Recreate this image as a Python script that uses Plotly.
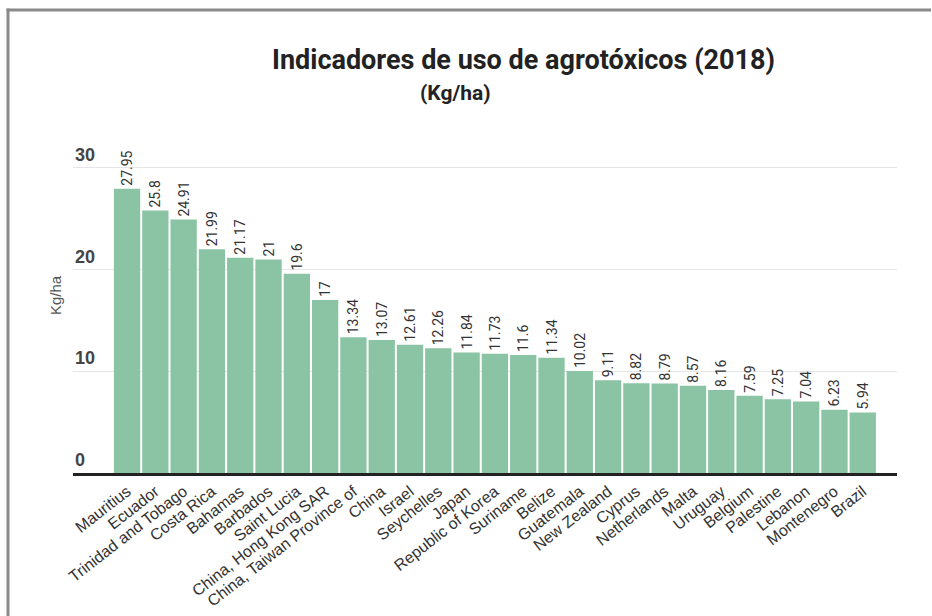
import plotly.graph_objects as go

countries = ["Mauritius", "Ecuador", "Trinidad and Tobago", "Costa Rica", "Bahamas",
             "Barbados", "Saint Lucia", "China, Hong Kong SAR", "China, Taiwan Province of",
             "China", "Israel", "Seychelles", "Japan", "Republic of Korea", "Suriname",
             "Belize", "Guatemala", "New Zealand", "Cyprus", "Netherlands", "Malta",
             "Uruguay", "Belgium", "Palestine", "Lebanon", "Montenegro", "Brazil"]
values = [27.95, 25.8, 24.91, 21.99, 21.17, 21, 19.6, 17, 13.34, 13.07, 12.61, 12.26,
          11.84, 11.73, 11.6, 11.34, 10.02, 9.11, 8.82, 8.79, 8.57, 8.16, 7.59, 7.25,
          7.04, 6.23, 5.94]
y_ticks = [0, 10, 20, 30]

W, H = 932, 616
L, R, T, B = 73, 35, 118, 143
pw, ph = W - L - R, H - T - B

def px(x):
    return (x - L) / pw

def py(y):
    return (H - B - y) / ph

fig = go.Figure()
fig.add_trace(go.Bar(
    x=list(range(len(countries))), y=values,
    marker=dict(color="#8bc4a5", line=dict(width=0)),
    text=[f"{v:g}" for v in values],
    textposition="outside", textangle=-90, constraintext="none",
    textfont=dict(family="Roboto", size=14, color="#333333"),
    cliponaxis=False,
))

annotations = [
    dict(text="<b>Indicadores de uso de agrotóxicos (2018)</b>", xref="paper", yref="paper",
         x=px(523), y=py(60), xanchor="center", yanchor="middle", showarrow=False,
         font=dict(family="Roboto", size=27, color="#222222")),
    dict(text="<b>(Kg/ha)</b>", xref="paper", yref="paper",
         x=px(455), y=py(93), xanchor="center", yanchor="middle", showarrow=False,
         font=dict(family="Roboto", size=21, color="#222222")),
    dict(text="Kg/ha", xref="paper", yref="paper", textangle=-90,
         x=px(55), y=py(295), xanchor="center", yanchor="middle", showarrow=False,
         font=dict(family="Liberation Sans", size=15, color="#555555")),
]
for t in y_ticks:
    annotations.append(dict(text=f"<b>{t}</b>", xref="paper", yref="y", x=0, y=t,
                            xanchor="left", yanchor="bottom", yshift=1, xshift=0,
                            showarrow=False,
                            font=dict(family="Liberation Sans", size=18, color="#444444")))

shapes = [
    dict(type="line", xref="paper", yref="paper",
         x0=px(8), y0=py(H + 5), x1=px(8), y1=py(8.5),
         line=dict(color="#8a8a8a", width=3)),
    dict(type="line", xref="paper", yref="paper",
         x0=px(6.5), y0=py(10), x1=px(931), y1=py(10),
         line=dict(color="#8a8a8a", width=3)),
]

fig.update_layout(
    width=W, height=H,
    margin=dict(l=L, r=R, t=T, b=B, autoexpand=False),
    paper_bgcolor="white", plot_bgcolor="white",
    bargap=0.07,
    showlegend=False,
    annotations=annotations,
    shapes=shapes,
    xaxis=dict(
        tickmode="array", tickvals=list(range(len(countries))), ticktext=countries,
        tickangle=-38, range=[-1.91, 27.21], automargin=False,
        tickfont=dict(family="Liberation Sans", size=16, color="#333333"),
        showline=True, linecolor="#222222", linewidth=3,
        showgrid=False, ticks="", zeroline=False,
    ),
    yaxis=dict(
        range=[0, 34.9], tickvals=y_ticks, showticklabels=False, automargin=False,
        showgrid=True, gridcolor="#e6e6e6", gridwidth=1,
        zeroline=False, ticks="",
    ),
)

fig.write_html("out.html", config={"displayModeBar": False})
